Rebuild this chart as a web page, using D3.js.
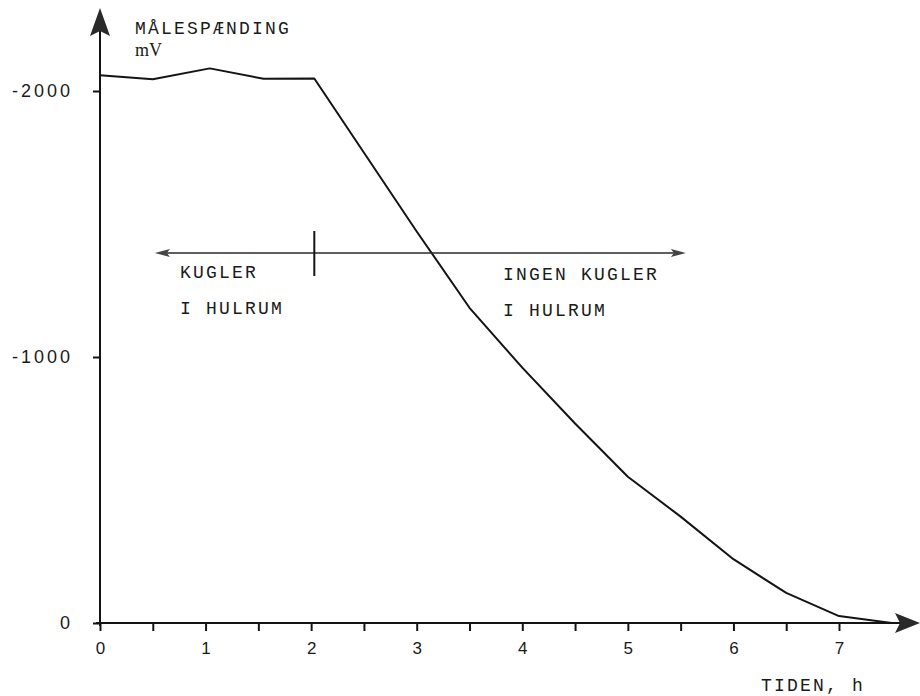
<!DOCTYPE html>
<html>
<head>
<meta charset="utf-8">
<script src="https://cdn.jsdelivr.net/npm/d3@7"></script>
<style>
  html, body { margin: 0; padding: 0; background: #fff; }
  svg { display: block; }
  .mono { font-family: "Liberation Mono", "DejaVu Sans Mono", monospace; fill: #1a1a1a; }
  .tick text { font-family: "Liberation Sans", Arial, sans-serif; fill: #1a1a1a; }
</style>
</head>
<body>
<svg id="chart" width="920" height="696"></svg>
<script>
// ---- data ----
const time    = [0, 0.5, 1.04, 1.55, 2.03, 3.0, 3.5, 4.0, 4.5, 5.0, 5.5, 6.0, 6.5, 7.0, 7.5];
const voltage = [-2059, -2044, -2085, -2046, -2047, -1472, -1185, -960, -750, -550, -400, -240, -113, -26, 0];
const xTicks = [0, 0.5, 1, 1.5, 2, 2.5, 3, 3.5, 4, 4.5, 5, 5.5, 6, 6.5, 7];
const xTickLabels = ["0", "", "1", "", "2", "", "3", "", "4", "", "5", "", "6", "", "7"];
const yTicks = [0, -1000, -2000];
const yTickLabels = ["0", "-1000", "-2000"];
const arrowLevel = -1391;          // mV level of the double arrow
const arrowSpan = [0.52, 5.55];    // hours
const dividerTime = 2.03;          // hours
const yTitle = ["MÅLESPÆNDING", "mV"];
const xTitle = "TIDEN, h";
const leftNote = ["KUGLER", "I HULRUM"];
const rightNote = ["INGEN KUGLER", "I HULRUM"];

// ---- scales ----
const svg = d3.select("#chart");
const x = d3.scaleLinear().domain([0, 7]).range([100, 839]);
const y = d3.scaleLinear().domain([0, -2000]).range([623, 91]);
const ink = "#141414";

// ---- axes ----
const xAxis = d3.axisBottom(x)
  .tickValues(xTicks)
  .tickSize(8)
  .tickPadding(11)
  .tickFormat((d, i) => xTickLabels[i]);
const gx = svg.append("g").attr("transform", `translate(0,${y(0)})`).call(xAxis);
gx.select(".domain").remove();
gx.selectAll(".tick line").attr("stroke", ink).attr("stroke-width", 2);
gx.selectAll(".tick text").attr("font-size", 17);

const yAxis = d3.axisLeft(y)
  .tickValues(yTicks)
  .tickSize(7)
  .tickPadding(20)
  .tickFormat((d, i) => yTickLabels[i]);
const gy = svg.append("g").attr("transform", `translate(${x(0)},0)`).call(yAxis);
gy.select(".domain").remove();
gy.selectAll(".tick line").attr("stroke", ink).attr("stroke-width", 2);
gy.selectAll(".tick text").attr("font-size", 18).attr("letter-spacing", 3);

// axis lines with arrowheads
const x0 = x(0), y0 = y(0);
svg.append("line").attr("x1", x0).attr("y1", y0 + 3).attr("x2", x0).attr("y2", 25)
  .attr("stroke", ink).attr("stroke-width", 2);
svg.append("line").attr("x1", x0 - 4).attr("y1", y0).attr("x2", 905).attr("y2", y0)
  .attr("stroke", ink).attr("stroke-width", 2);
// y arrowhead
svg.append("path")
  .attr("d", `M${x0},8 L${x0 + 10},36 L${x0},31 L${x0 - 10},36 Z`)
  .attr("fill", "#2a2a2a");
// x arrowhead
svg.append("path")
  .attr("d", `M920,${y0} L895,${y0 - 10} L900,${y0} L895,${y0 + 10} Z`)
  .attr("fill", "#2a2a2a");

// ---- curve ----
const pts = time.map((t, i) => [t, voltage[i]]);
svg.append("path")
  .datum(pts)
  .attr("fill", "none")
  .attr("stroke", ink)
  .attr("stroke-width", 2)
  .attr("stroke-linejoin", "round")
  .attr("d", d3.line().x(d => x(d[0])).y(d => y(d[1])));

// ---- double arrow & divider ----
const ay = y(arrowLevel), ax1 = x(arrowSpan[0]), ax2 = x(arrowSpan[1]);
svg.append("line").attr("x1", ax1 + 6).attr("y1", ay).attr("x2", ax2 - 6).attr("y2", ay)
  .attr("stroke", "#2a2a2a").attr("stroke-width", 1.6);
svg.append("path")
  .attr("d", `M${ax1},${ay} L${ax1 + 15},${ay - 4} L${ax1 + 12},${ay} L${ax1 + 15},${ay + 4} Z`)
  .attr("fill", "#444");
svg.append("path")
  .attr("d", `M${ax2},${ay} L${ax2 - 15},${ay - 4} L${ax2 - 12},${ay} L${ax2 - 15},${ay + 4} Z`)
  .attr("fill", "#444");
svg.append("line").attr("x1", x(dividerTime)).attr("y1", ay - 22)
  .attr("x2", x(dividerTime)).attr("y2", ay + 23)
  .attr("stroke", ink).attr("stroke-width", 2);

// ---- texts ----
function mono(txt, tx, ty) {
  svg.append("text").attr("class", "mono")
    .attr("x", tx).attr("y", ty)
    .attr("font-size", 18).attr("letter-spacing", 2.2)
    .text(txt);
}
mono(yTitle[0], 135, 34);
svg.append("text").attr("x", 135).attr("y", 56)
  .attr("font-family", "Liberation Serif, serif").attr("font-size", 18)
  .attr("fill", "#1a1a1a").text(yTitle[1]);
mono(xTitle, 761, 691);
mono(leftNote[0], 180, 278);
mono(leftNote[1], 180, 314);
mono(rightNote[0], 503, 280);
mono(rightNote[1], 503, 316);
</script>
</body>
</html>
